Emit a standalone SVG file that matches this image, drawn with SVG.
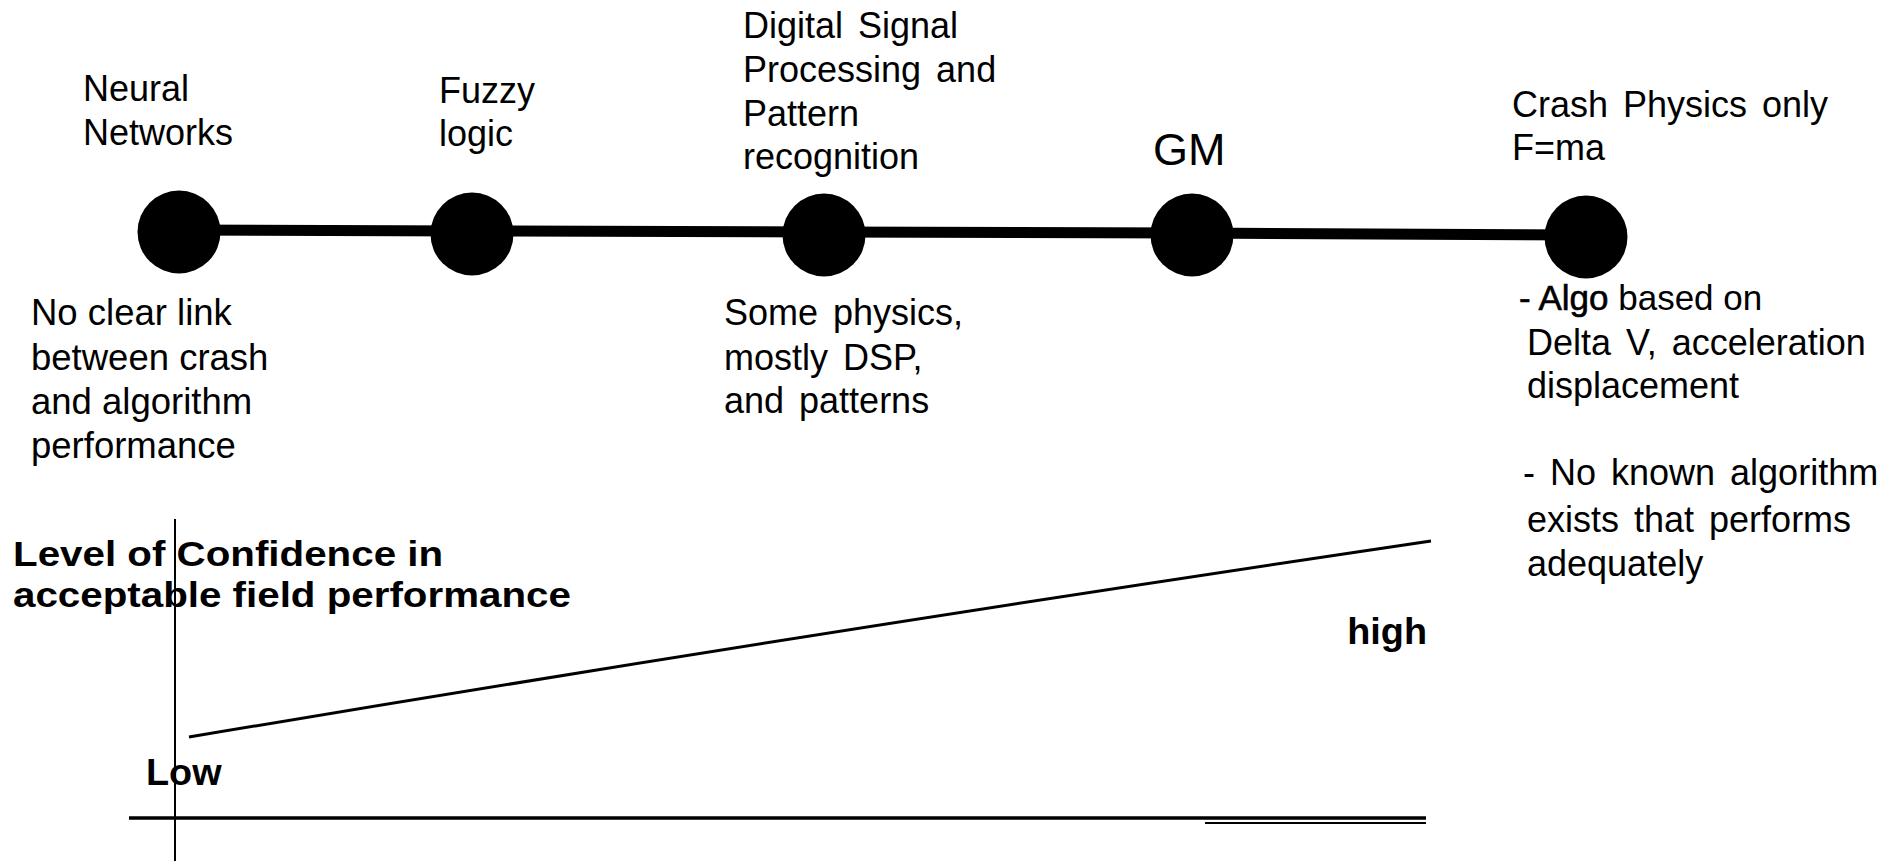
<svg xmlns="http://www.w3.org/2000/svg" width="1893" height="861" viewBox="0 0 1893 861">
  <style>
    .lbl { font-family: "Liberation Sans", Arial, Helvetica, sans-serif; font-size: 36px; fill: #000; }
    .wide { word-spacing: 5px; }
    .heavy { stroke: #000; stroke-width: 0.6; }
    .bold { font-family: "Liberation Sans", Arial, Helvetica, sans-serif; font-weight: bold; font-size: 36px; fill: #000; }
    .dot { fill: #000; }
    .link { stroke: #000; stroke-width: 11; fill: none; }
    .axis { stroke: #000; fill: none; }
  </style>

  <rect width="1893" height="861" fill="#fff"/>

  <!-- connectors: the spectrum bar joining the five methods -->
  <g id="connectors">
    <line class="link" x1="179" y1="230" x2="472" y2="231"/>
    <line class="link" x1="472" y1="231" x2="824" y2="232"/>
    <line class="link" x1="824" y1="232" x2="1192" y2="233"/>
    <line class="link" x1="1192" y1="233" x2="1586" y2="235"/>
  </g>

  <g id="node-neural">
    <circle class="dot" cx="179" cy="232" r="41.5"/>
    <text class="lbl" x="83" y="101">Neural</text>
    <text class="lbl" x="83" y="145">Networks</text>
    <text class="lbl" x="31" y="325" style="font-size:36.5px">No clear link</text>
    <text class="lbl" x="31" y="370" style="font-size:36.5px">between crash</text>
    <text class="lbl" x="31" y="414" style="font-size:36.5px">and algorithm</text>
    <text class="lbl" x="31" y="458" style="font-size:36.5px">performance</text>
  </g>

  <g id="node-fuzzy">
    <circle class="dot" cx="472" cy="234" r="41.5"/>
    <text class="lbl" x="439" y="103">Fuzzy</text>
    <text class="lbl" x="439" y="146">logic</text>
  </g>

  <g id="node-dsp">
    <circle class="dot" cx="824" cy="235" r="41.5"/>
    <text class="lbl wide" x="743" y="38">Digital Signal</text>
    <text class="lbl wide" x="743" y="82">Processing and</text>
    <text class="lbl wide" x="743" y="126">Pattern</text>
    <text class="lbl wide" x="743" y="169">recognition</text>
    <text class="lbl wide" x="724" y="325">Some physics,</text>
    <text class="lbl wide" x="724" y="370">mostly DSP,</text>
    <text class="lbl wide" x="724" y="413">and patterns</text>
  </g>

  <g id="node-gm">
    <circle class="dot" cx="1192" cy="235" r="41.5"/>
    <text class="lbl" x="1153" y="165" style="font-size:45px">GM</text>
  </g>

  <g id="node-physics">
    <circle class="dot" cx="1586" cy="237" r="41.5"/>
    <text class="lbl wide" x="1512" y="117">Crash Physics only</text>
    <text class="lbl wide" x="1512" y="160">F=ma</text>
    <text class="lbl" x="1519" y="310" style="font-size:35px"><tspan class="heavy">- Algo</tspan> based on</text>
    <text class="lbl wide" x="1527" y="355">Delta V, acceleration</text>
    <text class="lbl wide" x="1527" y="398">displacement</text>
    <text class="lbl wide" x="1523" y="485">- No known algorithm</text>
    <text class="lbl wide" x="1527" y="532">exists that performs</text>
    <text class="lbl wide" x="1527" y="576">adequately</text>
  </g>

  <!-- confidence chart -->
  <g id="chart">
    <line class="axis" x1="175" y1="519" x2="175" y2="861" stroke-width="2"/>
    <line class="axis" x1="129" y1="818" x2="1426" y2="818" stroke-width="3.5"/>
    <line class="axis" x1="1205" y1="823" x2="1426" y2="823" stroke-width="1.8"/>
    <path class="axis" d="M189,737 Q810,633 1431,541" stroke-width="3"/>
    <text class="bold" transform="translate(13 566) scale(1.12 1)">Level of Confidence in</text>
    <text class="bold" transform="translate(13 607) scale(1.12 1)">acceptable field performance</text>
    <text class="bold" transform="translate(146 785) scale(1.05 1)">Low</text>
    <text class="bold" transform="translate(1427 644) scale(1.05 1)" text-anchor="end">high</text>
  </g>
</svg>
